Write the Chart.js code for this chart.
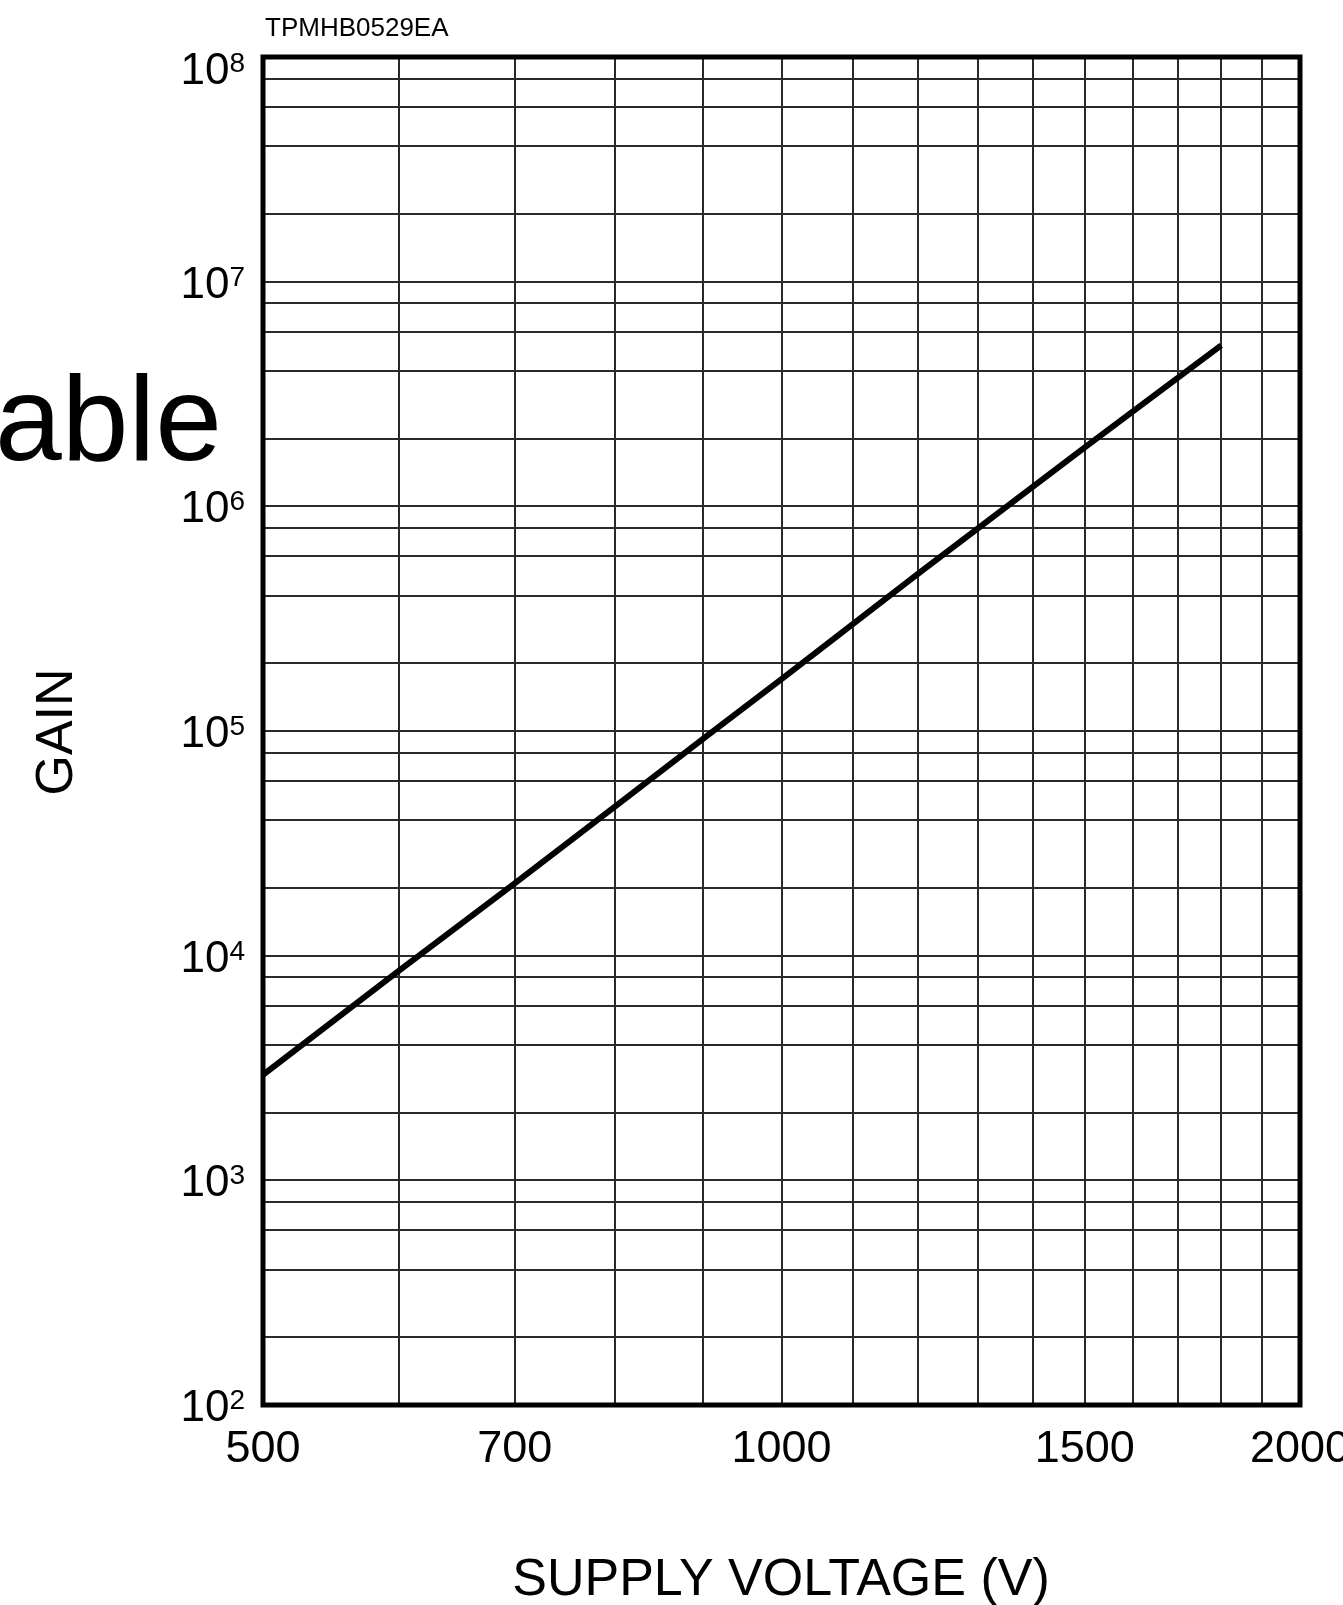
<!DOCTYPE html>
<html lang="en">
  <head>
    <meta charset="utf-8" />
    <title>Gain vs supply voltage</title>
    <style>
      * {
        margin: 0;
        padding: 0;
      }
      body {
        background: #fff;
      }
      canvas {
        display: block;
      }
    </style>
  </head>
  <body>
    <canvas id="gainChart" width="1343" height="1605"></canvas>

    <script src="https://cdn.jsdelivr.net/npm/chart.js"></script>

    <script>
      // supply voltage (V) and gain
      const voltage = [500, 600, 700, 800, 900, 1000, 1200, 1500, 1800];
      const gain = [2950, 8600, 21000, 46000, 92000, 170000, 500000, 1830000, 5200000];

      // labelled voltages and the vertical rules of the log paper
      const voltageLabels = [500, 700, 1000, 1500, 2000];
      const voltageRules = [500, 600, 700, 800, 900, 1000, 1100, 1200, 1300, 1400, 1500, 1600, 1700, 1800, 1900, 2000];

      // gain decades (powers of ten) and the rules inside each decade
      const gainExponents = [2, 3, 4, 5, 6, 7, 8];
      const decadeSteps = [1, 2, 4, 6, 8];

      const FONT = '"Liberation Sans", Arial, Helvetica, sans-serif';

      const gainRules = [];
      gainExponents.forEach((e) => {
        if (e === 8) {
          gainRules.push(1e8);
          return;
        }
        decadeSteps.forEach((m) => gainRules.push(m * Math.pow(10, e)));
      });

      const points = voltage.map((v, i) => ({ x: v, y: gain[i] }));

      // frame, tick labels and titles are drawn by hand
      const paperLabels = {
        id: "paperLabels",
        afterDraw(chart) {
          const {
            ctx,
            chartArea: a,
            scales: { x, y },
          } = chart;
          ctx.save();

          ctx.lineWidth = 5;
          ctx.strokeStyle = "#000";
          ctx.strokeRect(a.left, a.top, a.right - a.left, a.bottom - a.top);

          ctx.fillStyle = "#000";
          ctx.textBaseline = "alphabetic";

          // x tick labels
          ctx.font = "45px " + FONT;
          ctx.textAlign = "center";
          voltageLabels.forEach((v) => {
            ctx.fillText(String(v), x.getPixelForValue(v), 1462);
          });

          // y tick labels as 10 with a raised exponent
          ctx.textAlign = "right";
          gainExponents.forEach((e) => {
            let yy = y.getPixelForValue(Math.pow(10, e));
            yy = Math.max(yy, a.top + 11);
            ctx.font = "28px " + FONT;
            const supW = ctx.measureText(String(e)).width;
            ctx.fillText(String(e), 245, yy + 4);
            ctx.font = "44px " + FONT;
            ctx.fillText("10", 245 - supW, yy + 16);
          });

          // code in the top corner
          ctx.textAlign = "left";
          ctx.font = "26px " + FONT;
          ctx.fillText("TPMHB0529EA", 265, 36);

          // x axis title
          ctx.textAlign = "center";
          ctx.font = "52px " + FONT;
          ctx.fillText("SUPPLY VOLTAGE (V)", 781, 1595);

          // y axis title
          ctx.save();
          ctx.translate(72, 732);
          ctx.rotate(-Math.PI / 2);
          ctx.fillText("GAIN", 0, 0);
          ctx.restore();

          // word left over on the slide behind the chart
          ctx.textAlign = "left";
          ctx.font = "120px " + FONT;
          ctx.fillText("able", -5, 460);

          ctx.restore();
        },
      };

      const config = {
        type: "line",
        data: {
          datasets: [
            {
              label: "Gain",
              data: points,
              borderColor: "#000",
              borderWidth: 6,
              pointRadius: 0,
              tension: 0,
              fill: false,
            },
          ],
        },
        options: {
          responsive: false,
          animation: false,
          layout: {
            padding: { left: 263, top: 57, right: 43, bottom: 200 },
          },
          plugins: {
            legend: { display: false },
            tooltip: { enabled: false },
          },
          scales: {
            x: {
              type: "logarithmic",
              min: 500,
              max: 2000,
              afterBuildTicks: (s) => {
                s.ticks = voltageRules.map((v) => ({ value: v }));
              },
              afterFit: (s) => {
                s.height = 0;
              },
              ticks: { display: false },
              border: { display: false },
              grid: { color: "#2a2a2a", lineWidth: 2, drawTicks: false },
            },
            y: {
              type: "logarithmic",
              min: 100,
              max: 1e8,
              afterBuildTicks: (s) => {
                s.ticks = gainRules.map((v) => ({ value: v }));
              },
              afterFit: (s) => {
                s.width = 0;
              },
              ticks: { display: false },
              border: { display: false },
              grid: { color: "#2a2a2a", lineWidth: 2, drawTicks: false },
            },
          },
        },
        plugins: [paperLabels],
      };

      const gainChart = new Chart(document.getElementById("gainChart"), config);
    </script>
  </body>
</html>
